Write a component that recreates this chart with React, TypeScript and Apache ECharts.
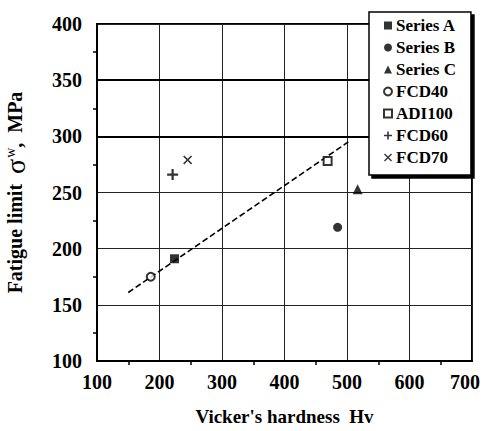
import React, { useEffect, useRef } from "react";
import * as echarts from "echarts";

const seriesNames = ["Series A", "Series B", "Series C", "FCD40", "ADI100", "FCD60", "FCD70"];
const hardness = [224, 485, 517, 186, 469, 221, 245];
const fatigue = [191, 219, 253, 175, 278, 266, 279];
const trendX = [150, 502];
const trendY = [161, 295];
const xTicks = [100, 700, 100];
const yTicks = [100, 400, 50];

const PLUS = "path://M4,0H6V4H10V6H6V10H4V6H0V4H4Z";
const CROSS = "path://M1.2,0L5,3.8L8.8,0L10,1.2L6.2,5L10,8.8L8.8,10L5,6.2L1.2,10L0,8.8L3.8,5L0,1.2Z";
const symbols = ["rect", "circle", "triangle", "emptyCircle", "emptyRect", PLUS, CROSS];
const sizes = [9, 9, 10, 8, 8, 11, 9];

const FONT = "'Liberation Serif', 'DejaVu Serif', serif";

export default function App() {
  const ref = useRef<HTMLDivElement>(null);
  useEffect(() => {
    if (!ref.current) return;
    const chart = echarts.init(ref.current, undefined, { renderer: "svg" });
    const scatter = seriesNames.map((name, i) => ({
      name,
      type: "scatter",
      data: [[hardness[i], fatigue[i]]],
      symbol: symbols[i],
      symbolSize: sizes[i],
      itemStyle: {
        color: "#000",
        borderColor: "#000",
        borderWidth: symbols[i].startsWith("empty") ? 1.6 : 0,
      },
      z: 5,
    }));
    const labelStyle = { fontFamily: FONT, fontWeight: "bold", fontSize: 20, color: "#000" };
    chart.setOption({
      animation: false,
      backgroundColor: "#fff",
      grid: {
        left: 97,
        top: 24,
        right: 12,
        bottom: 70,
        show: true,
        borderColor: "#000",
        borderWidth: 2,
        containLabel: false,
        outerBoundsMode: "none",
      },
      legend: {
        z: 20,
        orient: "vertical",
        left: 369,
        top: 12,
        data: seriesNames.map((n, i) => ({
          name: n,
          icon: symbols[i],
          itemStyle: { borderWidth: symbols[i].startsWith("empty") ? 1.4 : 0, borderColor: "#000" },
        })),
        itemWidth: 8,
        itemHeight: 8,
        itemGap: 5,
        padding: [5, 15, 9, 14],
        backgroundColor: "#fff",
        borderColor: "#000",
        borderWidth: 1.5,
        shadowColor: "#000",
        shadowBlur: 0,
        shadowOffsetX: 3,
        shadowOffsetY: 3,
        textStyle: {
          fontFamily: FONT,
          fontWeight: "bold",
          fontSize: 17,
          lineHeight: 16,
          color: "#000",
          padding: [0, 0, 0, -1],
        },
      },
      xAxis: {
        type: "value",
        min: xTicks[0],
        max: xTicks[1],
        interval: xTicks[2],
        name: "Vicker's hardness  Hv",
        nameLocation: "middle",
        nameGap: 46,
        nameTextStyle: { fontFamily: FONT, fontWeight: "bold", fontSize: 19, color: "#000" },
        axisLine: { show: true, lineStyle: { color: "#000", width: 2 } },
        axisTick: { show: false },
        minorTick: { show: true, splitNumber: 2, length: 4, lineStyle: { color: "#000", width: 1.5 } },
        axisLabel: {
          ...labelStyle,
          margin: 11,
          formatter: (v: number) => (v === xTicks[1] ? `{r|${v}}` : `${v}`),
          rich: { r: { ...labelStyle, padding: [0, 14, 0, 0] } },
        },
        splitLine: { show: true, lineStyle: { color: "#222", width: 1 } },
      },
      yAxis: {
        type: "value",
        min: yTicks[0],
        max: yTicks[1],
        interval: yTicks[2],
        name: "Fatigue limit  {s|σ}{w|w}{n|,  MPa}",
        nameLocation: "middle",
        nameGap: 68,
        nameTextStyle: {
          fontFamily: FONT,
          fontWeight: "bold",
          fontSize: 20,
          color: "#000",
          rich: {
            s: { fontFamily: FONT, fontSize: 28, fontWeight: "normal", color: "#000" },
            w: { fontFamily: FONT, fontSize: 14, fontWeight: "normal", color: "#000", padding: [0, 0, 10, 1] },
            n: { fontFamily: FONT, fontSize: 20, fontWeight: "bold", color: "#000" },
          },
        },
        axisLine: { show: true, lineStyle: { color: "#000", width: 2 } },
        axisTick: { show: false },
        minorTick: { show: true, splitNumber: 2, length: 4, lineStyle: { color: "#000", width: 1.5 } },
        axisLabel: { ...labelStyle, margin: 15 },
        splitLine: { show: true, lineStyle: { color: "#222", width: 1 } },
      },
      series: [
        {
          name: "trend",
          type: "line",
          data: trendX.map((x, i) => [x, trendY[i]]),
          showSymbol: false,
          symbol: "none",
          lineStyle: { color: "#000", width: 1.6, type: [6, 3] },
          silent: true,
          z: 3,
          markLine: {
            silent: true,
            symbol: "none",
            label: { show: false },
            lineStyle: { color: "#000", width: 1.8, type: "solid" },
            data: [{ yAxis: 350 }, { yAxis: 300 }],
          },
        },
        ...scatter,
      ],
    });
    return () => chart.dispose();
  }, []);
  return <div ref={ref} style={{ width: 484, height: 431, position: "absolute", left: 0, top: 0 }} />;
}
